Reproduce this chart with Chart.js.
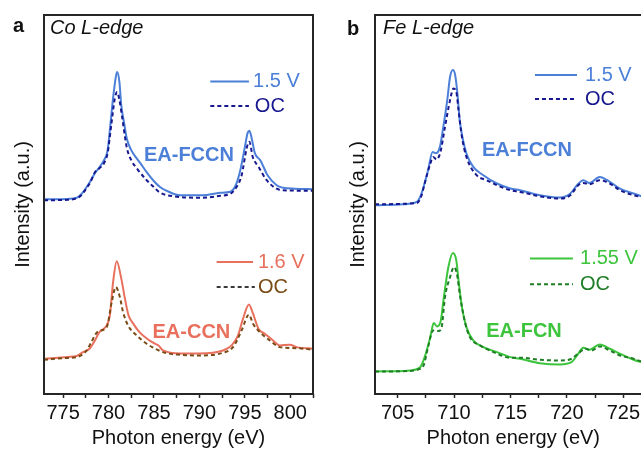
<!DOCTYPE html>
<html>
<head>
<meta charset="utf-8">
<script src="https://cdn.jsdelivr.net/npm/chart.js@4.4.1/dist/chart.umd.min.js"></script>
<style>
  html, body { margin: 0; padding: 0; background: #fff; overflow: hidden; width: 641px; height: 450px; }
  canvas { position: absolute; top: 0; }
  #coChart { left: 0; }
  #feChart { left: 320px; }
</style>
</head>
<body>
<canvas id="coChart" width="320" height="450"></canvas>
<canvas id="feChart" width="345" height="450"></canvas>
<script>
// ---- Co L-edge (panel a) ----
const coTicks = [775, 777.5, 780, 782.5, 785, 787.5, 790, 792.5, 795, 797.5, 800, 802.5];

const coFccnVE = [772.9, 774.0, 775.5, 776.5, 777.0, 777.5, 778.0, 778.5, 779.0, 779.5, 779.9, 780.2, 780.5, 780.8, 780.95, 781.2, 781.4, 781.7, 782.0, 782.5, 783.0, 783.5, 784.2, 785.0, 785.7, 786.5, 787.9, 790.4, 792.3, 793.4, 794.0, 794.5, 795.0, 795.3, 795.5, 795.8, 796.1, 796.7, 797.5, 798.5, 799.2, 800.5, 802.5];
const coFccnVI = [194.5, 194.5, 194.8, 196, 199.5, 205.5, 212.5, 220.5, 226.5, 233.5, 243.5, 268.5, 295.5, 316.5, 321.5, 311.5, 288.5, 271.5, 255.5, 243.5, 236.5, 230.5, 221.5, 212.5, 206.5, 202.5, 198.5, 198.5, 201, 202, 208.5, 223.5, 246.5, 260.5, 263, 253.5, 240.5, 233.5, 218.5, 208.5, 206, 205, 204.5];

const coFccnOcE = [772.9, 775.5, 776.5, 777.0, 777.5, 778.0, 778.5, 779.0, 779.5, 779.9, 780.3, 780.7, 780.95, 781.2, 781.5, 782.0, 782.5, 783.1, 784.2, 785.0, 785.6, 787.1, 790.4, 792.3, 793.4, 794.0, 794.65, 795.2, 795.5, 795.86, 796.5, 797.4, 798.5, 799.2, 802.5];
const coFccnOcI = [193.5, 194, 195.5, 198.5, 204.5, 211.5, 221.5, 225.5, 230.5, 240.5, 268.5, 295.5, 301.5, 293.5, 276.5, 246.5, 233.5, 225.5, 213.5, 206.5, 201.5, 197.5, 196, 198, 200, 205.5, 218.5, 245.5, 252, 237, 227, 213.5, 205, 203.5, 203];

const coCcnVE = [772.9, 775.5, 776.5, 777.2, 777.9, 778.5, 779.0, 779.8, 780.15, 780.5, 780.9, 781.4, 781.8, 782.2, 782.7, 783.4, 784.5, 785.1, 785.5, 786.0, 787.9, 790.0, 792.6, 793.55, 794.25, 794.8, 795.45, 795.9, 796.5, 797.2, 798.1, 798.85, 799.95, 800.7, 802.5];
const coCcnVI = [35.2, 37, 38, 41.8, 45.2, 53.5, 61.8, 68.5, 78.5, 111.5, 132.5, 115.5, 95.5, 78.5, 70.5, 61.8, 53.5, 50.2, 48.5, 43.5, 40.5, 40.5, 43.5, 48.5, 58.5, 75.2, 89.5, 80.2, 65.2, 60.2, 53.5, 48.5, 49.2, 46.8, 45.2];

const coCcnOcE = [772.9, 775.5, 776.5, 777.6, 778.1, 778.85, 779.8, 780.35, 780.8, 781.25, 781.6, 782.15, 783.1, 784.2, 785.3, 786.4, 787.9, 790.0, 792.6, 793.7, 794.65, 795.45, 795.9, 796.65, 797.75, 798.85, 800.7, 802.5];
const coCcnOcI = [34.2, 36, 36.8, 43.5, 51.8, 62.5, 66.8, 91.8, 106.8, 96.8, 81.8, 68.5, 58.5, 50.2, 44.5, 40.8, 39.2, 38.5, 41.2, 46.8, 63.5, 79.2, 70.2, 61.8, 53.5, 46.8, 45.8, 44.2];

// ---- Fe L-edge (panel b) ----
const feTicks = [705, 707.5, 710, 712.5, 715, 717.5, 720, 722.5, 725, 727.5];

const feFccnVE = [703.0, 705.5, 706.7, 707.0, 707.3, 707.7, 708.1, 708.4, 708.75, 709.05, 709.4, 709.65, 709.9, 710.1, 710.3, 710.5, 710.8, 711.1, 711.7, 712.6, 713.8, 715.0, 715.85, 717.6, 719.4, 720.3, 720.9, 721.45, 722.0, 722.9, 723.8, 724.7, 725.9, 726.6, 727.5];
const feFccnVI = [188.5, 189.5, 191.8, 196.8, 206.8, 223.5, 241.8, 240.5, 246.8, 266.8, 293.5, 316.8, 323.5, 318.5, 300.2, 273.5, 253.5, 240.2, 226.8, 218.5, 210.2, 205.2, 203.5, 198.5, 196.2, 200.2, 208.5, 213.5, 210.8, 216.8, 211.8, 205.2, 200.2, 197.5, 194.5];

const feFccnOcE = [703.0, 706.7, 707.1, 707.4, 707.9, 708.15, 708.45, 708.8, 709.2, 709.65, 709.95, 710.2, 710.4, 710.7, 711.1, 712.0, 712.9, 713.8, 715.0, 715.85, 717.6, 719.4, 720.3, 721.0, 721.45, 722.0, 722.9, 723.8, 724.7, 725.9, 726.6, 727.5];
const feFccnOcI = [189.5, 190.8, 197.5, 210.2, 230.2, 236.8, 234.2, 241.8, 266.8, 293.5, 305.2, 301.8, 283.5, 256.8, 236.8, 218.5, 213.5, 208.5, 203.5, 201.8, 197.5, 195.2, 198.5, 208.5, 210.8, 209.5, 213.5, 210.2, 203.5, 198.5, 196.8, 194];

const feFcnVE = [703.0, 705.5, 706.1, 707.0, 707.4, 707.9, 708.2, 708.5, 708.8, 709.1, 709.5, 709.9, 710.2, 710.4, 710.7, 711.1, 711.7, 712.6, 713.8, 715.0, 715.85, 717.6, 719.4, 720.4, 721.0, 721.45, 722.0, 722.9, 723.8, 724.7, 725.9, 726.6, 727.5];
const feFcnVI = [22.5, 23, 23.5, 26.8, 36.8, 56.8, 70.8, 67.5, 71.8, 96.8, 126.8, 140.8, 133.5, 113.5, 86.8, 66.8, 53.5, 46.8, 41.8, 36.8, 35.2, 30.8, 29.5, 31.8, 40.2, 46.2, 44.2, 49.5, 45.2, 40.2, 34.2, 31.8, 29.5];

const feFcnOcE = [703.0, 706.1, 706.8, 707.3, 707.7, 708.15, 708.6, 708.9, 709.2, 709.65, 710.0, 710.25, 710.55, 711.0, 711.4, 712.3, 713.5, 715.0, 715.85, 717.6, 719.4, 720.4, 721.15, 721.6, 722.2, 722.9, 723.8, 724.7, 725.9, 726.6, 727.5];
const feFcnOcI = [22.5, 23, 24.5, 28.5, 46.8, 63.5, 62.8, 66.8, 96.8, 116.8, 126.8, 120.2, 96.8, 70.2, 56.8, 48.5, 41.8, 36.2, 36.2, 34.2, 33.5, 35.2, 41.8, 45.2, 43.5, 47.5, 43.5, 38.5, 35.2, 32.5, 30.5];

const BLUE = '#4b7fd8';
const NAVY = '#17178f';
const SALMON = '#e8705c';
const BROWN = '#7a4b16';
const GREEN = '#3cc43c';
const DKGREEN = '#1f7d26';
const AXIS = '#262626';
const FONT = "'Liberation Sans', Arial, sans-serif";

Chart.defaults.font.family = FONT;
Chart.defaults.color = '#111';

const pairs = (xs, ys) => xs.map((x, i) => ({ x: x, y: ys[i] }));

function line(label, xs, ys, color, dashed) {
  return {
    label: label,
    data: pairs(xs, ys),
    borderColor: color,
    borderWidth: 2,
    borderDash: dashed ? [4, 3] : [],
    pointRadius: 0,
    fill: false,
    cubicInterpolationMode: 'monotone'
  };
}

// box around the plot area
const framePlugin = {
  id: 'frame',
  afterDraw(chart) {
    const { ctx, chartArea: a } = chart;
    ctx.save();
    ctx.strokeStyle = AXIS;
    ctx.lineWidth = 2;
    ctx.strokeRect(a.left, a.top, a.right - a.left, a.bottom - a.top);
    ctx.restore();
  }
};

// legend swatches, sample names and panel tags
const notesPlugin = {
  id: 'notes',
  afterDatasetsDraw(chart, args, opts) {
    const { ctx } = chart;
    const xs = chart.scales.x, ys = chart.scales.y;
    ctx.save();
    (opts.items || []).forEach(it => {
      if (it.kind === 'swatch') {
        const y = ys.getPixelForValue(it.y);
        ctx.strokeStyle = it.color;
        ctx.lineWidth = 2;
        ctx.setLineDash(it.dash || []);
        ctx.beginPath();
        ctx.moveTo(xs.getPixelForValue(it.x1), y);
        ctx.lineTo(xs.getPixelForValue(it.x2), y);
        ctx.stroke();
        ctx.setLineDash([]);
      } else {
        const px = it.px ? it.x : xs.getPixelForValue(it.x);
        const py = it.px ? it.y : ys.getPixelForValue(it.y);
        ctx.fillStyle = it.color || '#111';
        ctx.font = (it.style || '') + ' ' + (it.size || 20) + 'px ' + FONT;
        ctx.textAlign = it.align || 'left';
        ctx.textBaseline = it.px ? 'alphabetic' : 'middle';
        ctx.fillText(it.text, px, py);
      }
    });
    ctx.restore();
  }
};

function makePanel(id, cfg) {
  return new Chart(document.getElementById(id), {
    type: 'line',
    data: { datasets: cfg.datasets },
    plugins: [framePlugin, notesPlugin],
    options: {
      responsive: false,
      animation: false,
      layout: { padding: cfg.padding },
      plugins: {
        legend: { display: false },
        tooltip: { enabled: false },
        notes: { items: cfg.notes }
      },
      scales: {
        x: {
          type: 'linear',
          min: cfg.min,
          max: cfg.max,
          afterBuildTicks: s => { s.ticks = cfg.ticks.map(v => ({ value: v })); },
          ticks: {
            callback: v => (v % 5 === 0 ? String(v) : ''),
            font: { size: 20 },
            color: '#111',
            padding: 3,
            maxRotation: 0,
            autoSkip: false
          },
          grid: { display: true, drawOnChartArea: false, drawTicks: true, tickLength: 4, tickColor: AXIS, tickWidth: 1.5 },
          border: { display: false },
          title: { display: true, text: 'Photon energy (eV)', font: { size: 20, lineHeight: 1 }, color: '#111', padding: { top: 0, bottom: 1 } }
        },
        y: {
          min: 0,
          max: 378.5,
          ticks: { display: false },
          grid: { display: false, drawTicks: false },
          border: { display: false },
          title: { display: true, text: 'Intensity (a.u.)', font: { size: 20 }, color: '#111', padding: cfg.yTitlePad }
        }
      }
    }
  });
}

makePanel('coChart', {
  min: 772.9, max: 802.5, ticks: coTicks,
  padding: { left: 0, top: 15, right: 7, bottom: 1 },
  yTitlePad: { top: 11.5, bottom: 8.5 },
  datasets: [
    line('OC', coFccnOcE, coFccnOcI, NAVY, true),
    line('1.5 V', coFccnVE, coFccnVI, BLUE, false),
    line('OC', coCcnOcE, coCcnOcI, BROWN, true),
    line('1.6 V', coCcnVE, coCcnVI, SALMON, false)
  ],
  notes: [
    { text: 'a', x: 13, y: 32, px: true, style: 'bold' },
    { text: 'Co L-edge', x: 50, y: 34, px: true, style: 'italic' },
    { kind: 'swatch', x1: 791.2, x2: 795.45, y: 312, color: BLUE },
    { text: '1.5 V', x: 795.9, y: 312, color: BLUE },
    { kind: 'swatch', x1: 791.2, x2: 795.45, y: 287.5, color: NAVY, dash: [4, 3] },
    { text: 'OC', x: 796.1, y: 287.5, color: NAVY },
    { text: 'EA-FCCN', x: 788.85, y: 238.5, color: BLUE, style: 'bold', align: 'center' },
    { kind: 'swatch', x1: 791.9, x2: 795.9, y: 131.8, color: SALMON },
    { text: '1.6 V', x: 796.44, y: 131.8, color: SALMON },
    { kind: 'swatch', x1: 791.9, x2: 796.1, y: 106.8, color: '#3a3a3a', dash: [4, 3] },
    { text: 'OC', x: 796.44, y: 106.8, color: BROWN },
    { text: 'EA-CCN', x: 789.12, y: 61.8, color: SALMON, style: 'bold', align: 'center' }
  ]
});

makePanel('feChart', {
  min: 703.0, max: 727.5, ticks: feTicks,
  padding: { left: 0, top: 15, right: 13.4, bottom: 1 },
  yTitlePad: { top: 26, bottom: 5 },
  datasets: [
    line('OC', feFccnOcE, feFccnOcI, NAVY, true),
    line('1.5 V', feFccnVE, feFccnVI, BLUE, false),
    line('OC', feFcnOcE, feFcnOcI, DKGREEN, true),
    line('1.55 V', feFcnVE, feFcnVI, GREEN, false)
  ],
  notes: [
    { text: 'b', x: 27, y: 34.5, px: true, style: 'bold' },
    { text: 'Fe L-edge', x: 63, y: 34, px: true, style: 'italic' },
    { kind: 'swatch', x1: 717.17, x2: 720.89, y: 318.5, color: BLUE },
    { text: '1.5 V', x: 721.6, y: 318.5, color: BLUE },
    { kind: 'swatch', x1: 717.17, x2: 720.89, y: 294.5, color: NAVY, dash: [4, 3] },
    { text: 'OC', x: 721.6, y: 294.5, color: NAVY },
    { text: 'EA-FCCN', x: 716.46, y: 243.5, color: BLUE, style: 'bold', align: 'center' },
    { kind: 'swatch', x1: 716.73, x2: 720.53, y: 135.2, color: GREEN },
    { text: '1.55 V', x: 721.16, y: 135.2, color: GREEN },
    { kind: 'swatch', x1: 716.73, x2: 720.53, y: 109.5, color: DKGREEN, dash: [4, 3] },
    { text: 'OC', x: 721.16, y: 109.5, color: DKGREEN },
    { text: 'EA-FCN', x: 716.2, y: 62.5, color: GREEN, style: 'bold', align: 'center' }
  ]
});
</script>
</body>
</html>
